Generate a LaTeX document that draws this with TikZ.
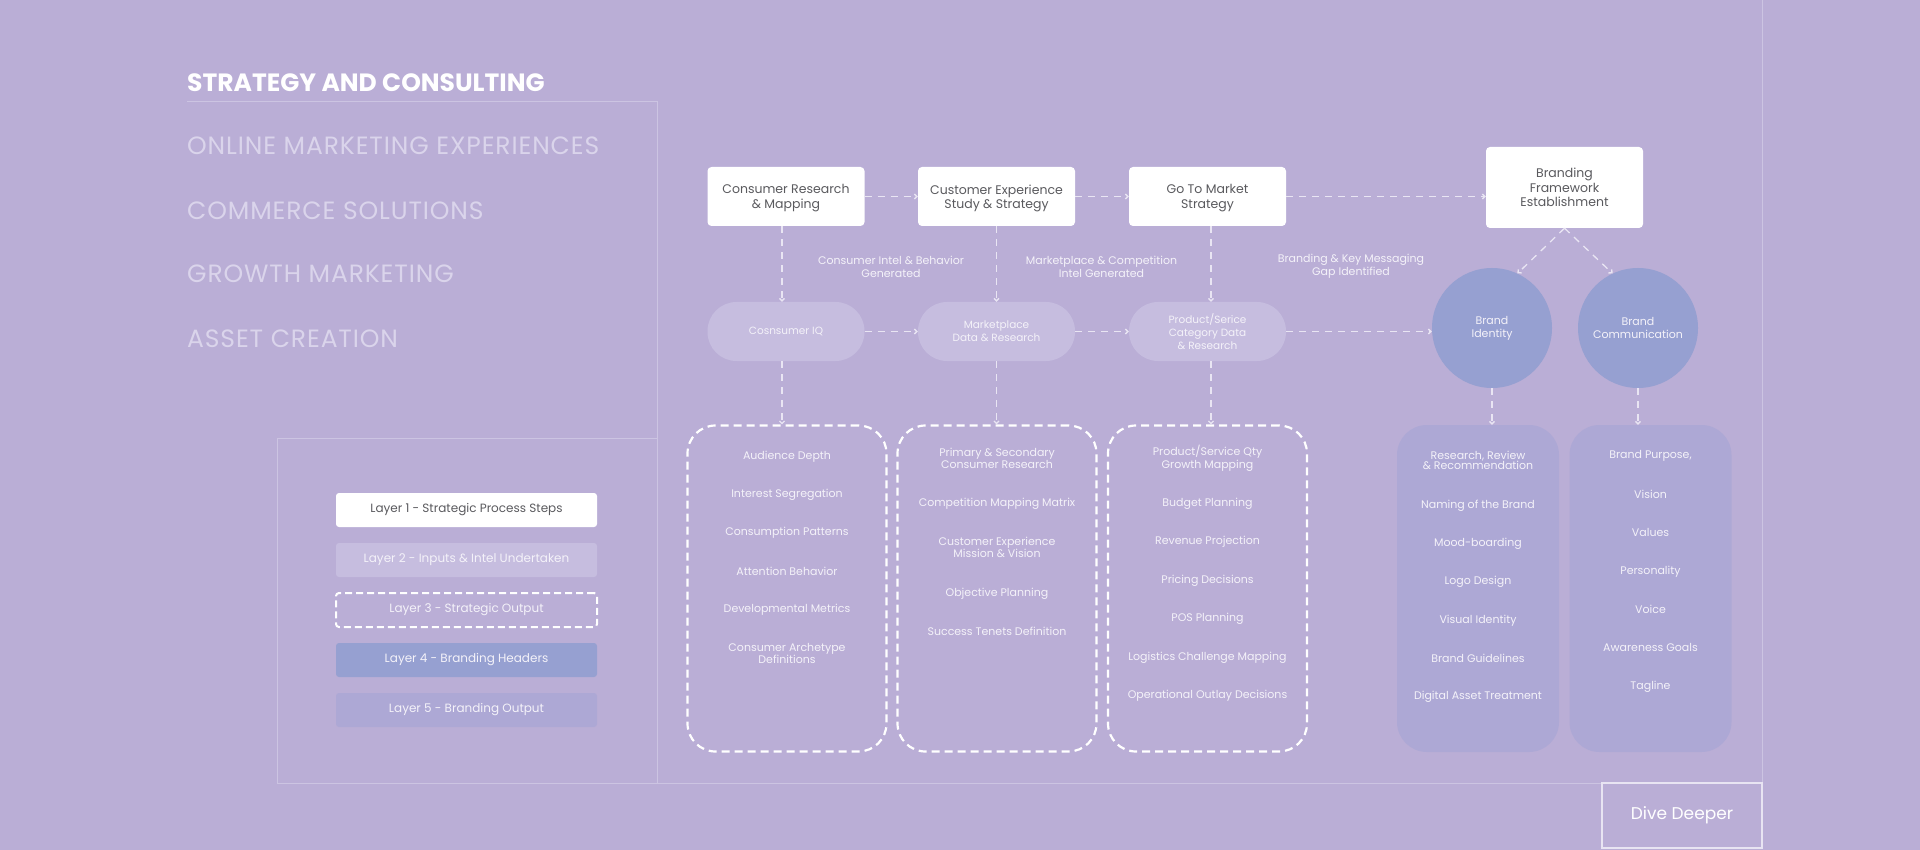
\documentclass[tikz,border=0pt]{standalone}
\usepackage{fontspec}
\setmainfont{Poppins}
\usetikzlibrary{arrows.meta}
\definecolor{bg}{HTML}{BAAED6}
\definecolor{frameline}{HTML}{CCC4E2}
\definecolor{menutext}{HTML}{DAD4EB}
\definecolor{flowline}{HTML}{E9E5F3}
\definecolor{boxtext}{HTML}{5A5A5E}
\definecolor{intel}{HTML}{C6BDDF}
\definecolor{headfill}{HTML}{96A0D1}
\definecolor{outfill}{HTML}{ADA8D5}
\definecolor{itemtext}{HTML}{F4F2F9}
\definecolor{divebd}{HTML}{E8E4F2}
\tikzset{
  stepbox/.style={rectangle, rounded corners=4pt, fill=white, text=boxtext, minimum width=157pt, minimum height=59pt, align=center, font=\fontsize{12.5}{14.5}\selectfont, inner sep=0pt, text depth=-1.5pt},
  intelbox/.style={rectangle, rounded corners=29pt, fill=intel, text=itemtext, minimum width=157pt, minimum height=59pt, align=center, font=\fontsize{10.5}{12.7}\selectfont, inner sep=0pt},
  outbox/.style={rectangle, rounded corners=28pt, draw=white, line width=2.2pt, dash pattern=on 8pt off 5pt, minimum width=199pt, minimum height=326pt, inner sep=0pt},
  brhead/.style={circle, fill=headfill, minimum size=120pt, text=itemtext, align=center, font=\fontsize{11}{13}\selectfont, inner sep=0pt},
  brout/.style={rectangle, rounded corners=30pt, fill=outfill, minimum width=162pt, minimum height=327pt, inner sep=0pt},
  item/.style={text=itemtext, align=center, font=\fontsize{11}{12.5}\selectfont, inner sep=0pt},
  flow/.style={draw=flowline, line width=1.3pt, dash pattern=on 7pt off 6pt, -{Straight Barb[length=2.5pt,width=5pt]}},
  lbl/.style={text=itemtext, align=center, font=\fontsize{11}{13}\selectfont, inner sep=0pt},
  menu/.style={text=menutext, font=\fontsize{25}{27}\selectfont\addfontfeature{LetterSpace=3.5}, anchor=west, inner sep=0pt},
  frame/.style={draw=frameline, line width=1pt},
  legendbox/.style={rectangle, rounded corners=3pt, minimum width=261pt, minimum height=34pt, inner sep=0pt, font=\fontsize{12}{14}\selectfont},
}
\begin{document}
\begin{tikzpicture}[x=1pt,y=-1pt]
\fill[bg] (0,0) rectangle (1920,850);
\useasboundingbox (0,0) rectangle (1920,850);

% frame lines
\draw[frame] (187,102) -- (657,102) -- (657,783);
\draw[frame] (277,783) -- (277,438) -- (657,438);
\draw[frame] (277,783) -- (1602,783);
\draw[frame] (1762,0) -- (1762,783);

% menu
\node[anchor=west, inner sep=0pt, text=white, font=\bfseries\fontsize{25}{27}\selectfont] (title) at (187,82.5) {STRATEGY AND CONSULTING};
\node[menu] (m1) at (187,146) {ONLINE MARKETING EXPERIENCES};
\node[menu] (m2) at (187,211) {COMMERCE SOLUTIONS};
\node[menu] (m3) at (187,274) {GROWTH MARKETING};
\node[menu] (m4) at (187,338.5) {ASSET CREATION};

% legend
\node[legendbox, fill=white, text=boxtext] (L1) at (466.5,510) {\raisebox{-2pt}{Layer 1 - Strategic Process Steps}};
\node[legendbox, fill=intel, text=itemtext] (L2) at (466.5,560) {\raisebox{-2pt}{Layer 2 - Inputs \& Intel Undertaken}};
\node[legendbox, draw=white, line width=2pt, dash pattern=on 7pt off 4pt, text=itemtext] (L3) at (466.5,610) {\raisebox{-2pt}{Layer 3 - Strategic Output}};
\node[legendbox, fill=headfill, text=itemtext] (L4) at (466.5,660) {\raisebox{-2pt}{Layer 4 - Branding Headers}};
\node[legendbox, fill=outfill, text=itemtext] (L5) at (466.5,710) {\raisebox{-2pt}{Layer 5 - Branding Output}};

% layer 1
\node[stepbox] (s1) at (786,196.5) {Consumer Research\\\& Mapping};
\node[stepbox] (s2) at (996.5,196.5) {Customer Experience\\Study \& Strategy};
\node[stepbox] (s3) at (1207.5,196.5) {Go To Market\\Strategy};
\node[stepbox, minimum height=81pt] (bf) at (1564.5,187.5) {Branding\\Framework\\Establishment};

% layer 2
\node[intelbox] (i1) at (786,331.5) {Cosnsumer IQ};
\node[intelbox] (i2) at (996.5,331.5) {Marketplace\\Data \& Research};
\node[intelbox] (i3) at (1207.5,331.5) {Product/Serice\\Category Data\\\& Research};

% layer 4
\node[brhead] (c1) at (1492,328) {Brand\\Identity};
\node[brhead] (c2) at (1638,328) {Brand\\Communication};

% labels
\node[lbl] (l1) at (891,266.5) {Consumer Intel \& Behavior\\Generated};
\node[lbl] (l2) at (1101.5,266.5) {Marketplace \& Competition\\Intel Generated};
\node[lbl] (l3) at (1351,266.5) {Branding \& Key Messaging\\Gap Identified};

% layer 3
\node[outbox] (o1) at (787,588.5) {};
\node[outbox] (o2) at (997,588.5) {};
\node[outbox] (o3) at (1207.5,588.5) {};
% layer 5
\node[brout] (b1) at (1478,588.5) {};
\node[brout] (b2) at (1650.5,588.5) {};

% items
\foreach \yy/\t [count=\k] in {456.5/Audience Depth, 494.5/Interest Segregation, 532.5/Consumption Patterns, 571.5/Attention Behavior, 609.5/Developmental Metrics, 653.5/{Consumer Archetype\\Definitions}}
  \node[item] (oa\k) at (787,\yy) {\t};
\foreach \yy/\t [count=\k] in {458.5/{Primary \& Secondary\\Consumer Research}, 503.5/Competition Mapping Matrix, 547.5/{Customer Experience\\Mission \& Vision}, 593.5/Objective Planning, 631.5/Success Tenets Definition}
  \node[item] (ob\k) at (997,\yy) {\t};
\foreach \yy/\t [count=\k] in {458.5/{Product/Service Qty\\Growth Mapping}, 503.5/Budget Planning, 541.5/Revenue Projection, 580.5/Pricing Decisions, 618.5/POS Planning, 657.5/Logistics Challenge Mapping, 695.5/Operational Outlay Decisions}
  \node[item] (oc\k) at (1207.5,\yy) {\t};
\foreach \yy/\t [count=\k] in {460.5/{Research, Review\\[-2pt]\& Recommendation}, 505.5/Naming of the Brand, 543.5/Mood-boarding, 581.5/Logo Design, 620.5/Visual Identity, 658.5/Brand Guidelines, 696.5/Digital Asset Treatment}
  \node[item] (ba\k) at (1478,\yy) {\t};
\foreach \yy/\t [count=\k] in {456/{Brand Purpose,}, 494.5/Vision, 532.5/Values, 571.5/Personality, 609.5/Voice, 647.5/Awareness Goals, 686.5/Tagline}
  \node[item] (bb\k) at (1650.5,\yy) {\t};

% connectors
\draw[flow] (s1) -- (s2);
\draw[flow] (s2) -- (s3);
\draw[flow] (s3) -- (s3 -| bf.west);
\draw[flow] (i1) -- (i2);
\draw[flow] (i2) -- (i3);
\draw[flow] (i3) -- (i3 -| c1.west);
\draw[flow] ([xshift=-4pt]s1.south) -- ([xshift=-4pt]i1.north);
\draw[flow] (s2) -- (i2);
\draw[flow] ([xshift=3.5pt]s3.south) -- ([xshift=3.5pt]i3.north);
\draw[flow] ([xshift=-4pt]i1.south) -- ([xshift=-4pt]i1.south |- o1.north);
\draw[flow] (i2) -- (i2 |- o2.north);
\draw[flow] ([xshift=3.5pt]i3.south) -- ([xshift=3.5pt]i3.south |- o3.north);
\draw[flow] (bf.south) -- (c1.65);
\draw[flow] (bf.south) -- (c2.115);
\draw[flow] (c1) -- (c1 |- b1.north);
\draw[flow] (c2) -- (c2 |- b2.north);

% dive deeper
\node[draw=divebd, line width=1.5pt, minimum width=160pt, minimum height=65pt, inner sep=0pt, text=white, font=\fontsize{17}{19}\selectfont] (dd) at (1682,815.5) {Dive Deeper};
\end{tikzpicture}
\end{document}
